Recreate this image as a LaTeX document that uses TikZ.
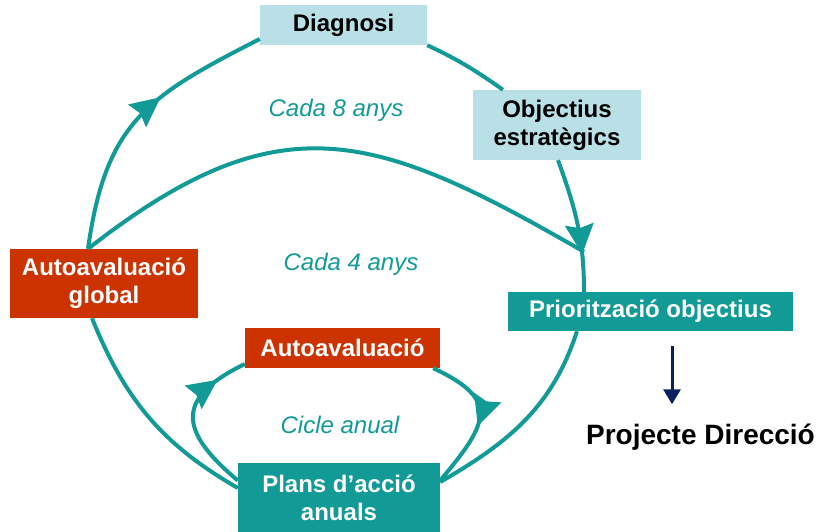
\documentclass[tikz,border=0pt]{standalone}
\usepackage{fontspec}
\setmainfont{Liberation Sans}
\usepackage{tikz}
\usetikzlibrary{arrows.meta,decorations.markings}

\definecolor{tealc}{RGB}{17,154,150}
\definecolor{redc}{RGB}{204,51,0}
\definecolor{lightc}{RGB}{185,224,230}
\definecolor{navyc}{RGB}{8,32,96}

\begin{document}
\begin{tikzpicture}[x=1pt,y=1pt,
    box/.style={inner sep=0pt,align=center,font=\fontsize{24}{28}\selectfont\bfseries},
    lightbox/.style={box,fill=lightc,text=black},
    redbox/.style={box,fill=redc,text=white},
    tealbox/.style={box,fill=tealc,text=white},
    cyclabel/.style={text=tealc,font=\fontsize{24}{28}\selectfont\itshape},
    cycline/.style={draw=tealc,line width=4pt},
    midarrow/.style={postaction={decorate},decoration={markings,
        mark=at position #1 with {\arrow[tealc,line width=1pt]{Stealth[length=30pt,width=29pt,inset=4pt]}}}}]
        \useasboundingbox (0,0) rectangle (825,-532);

        \node[lightbox,minimum width=167pt,minimum height=40pt] (diag) at (343.5,-25) {Diagnosi};
        \node[lightbox,minimum width=168pt,minimum height=70pt] (obj) at (557,-125) {Objectius\\estratègics};
        \node[redbox,minimum width=188pt,minimum height=69pt] (glob) at (104,-283.5) {Autoavaluació\\global};
        \node[tealbox,minimum width=285pt,minimum height=39pt] (prio) at (650.5,-311.5) {Priorització objectius};
        \node[redbox,minimum width=195pt,minimum height=40pt] (auto) at (342.5,-348) {Autoavaluació};
        \node[tealbox,minimum width=202pt,minimum height=69pt] (plans) at (339,-497.5) {Plans d’acció\\anuals};
        \node[font=\fontsize{28}{32}\selectfont\bfseries] (proj) at (700.5,-437) {Projecte Direcció};

        \node[cyclabel] (c8) at (336,-110) {Cada 8 anys};
        \node[cyclabel] (c4) at (351,-264) {Cada 4 anys};
        \node[cyclabel] (ca) at (340,-425) {Cicle anual};

        \coordinate (meet) at ([xshift=-66.5pt,yshift=40pt]prio.north);

	\draw[cycline,midarrow=0.6] ([xshift=-16pt]glob.north) to[out=82,in=207,looseness=1.2] ([yshift=-14pt]diag.west);
	\draw[cycline] (diag.south east) to[out=-25,in=145] ([xshift=-54pt]obj.north);
	\draw[cycline,midarrow=0.72] ([xshift=1pt]obj.south) to[out=-70,in=90] ([xshift=-66.5pt]prio.north);
	\draw[cycline] ([xshift=-16pt]glob.north) to[out=38,in=150,looseness=1.25] (meet);
	\draw[cycline] ([xshift=-73.5pt]prio.south) to[out=-108,in=30] ([yshift=15.5pt]plans.east);
	\draw[cycline] ([yshift=9.5pt]plans.west) to[out=150,in=-68] ([xshift=-12pt]glob.south);
	\draw[cycline,midarrow=0.8] ([yshift=17pt]plans.west) to[out=140,in=206,looseness=1.7] ([yshift=-16pt]auto.west);
	\draw[cycline,midarrow=0.55] ([xshift=-7pt]auto.south east) to[out=-25,in=50,looseness=1.7] ([yshift=17pt]plans.east);

	\draw[navyc,line width=3pt,-{Triangle[length=15pt,width=17pt]}] ([xshift=21.5pt,yshift=-15pt]prio.south) -- ([xshift=-28.5pt,yshift=16pt]proj.north);
\end{tikzpicture}
\end{document}
